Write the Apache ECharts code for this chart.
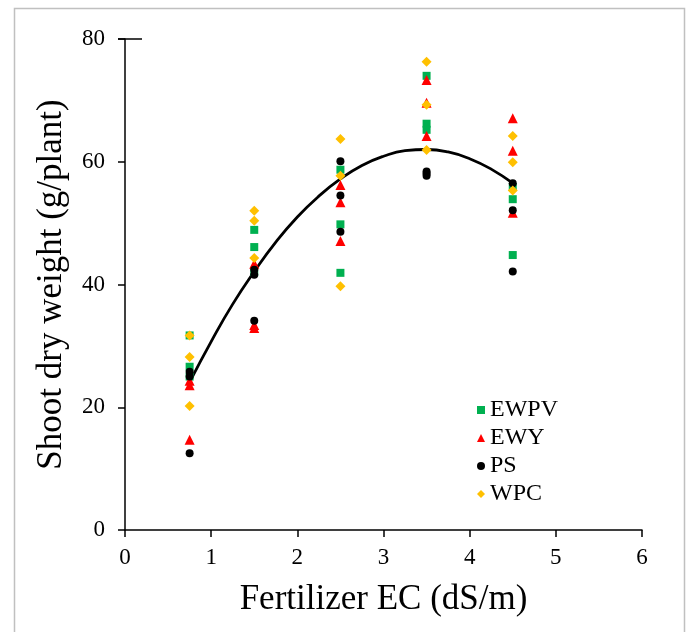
<!DOCTYPE html>
<html>
<head>
<meta charset="utf-8">
<script src="https://cdn.jsdelivr.net/npm/echarts@6/dist/echarts.min.js"></script>
<style>
  html, body { margin: 0; padding: 0; background: #fff; }
  #chart { width: 689px; height: 632px; }
</style>
</head>
<body>
<div id="chart"></div>
<script type="text/javascript">
// 施肥 EC 数值
var ecLevels = [0.75, 1.5, 2.5, 3.5, 4.5];

// 各处理的重复值（每个 EC 三个）
var ewpvValues = [[31.7, 26.6, 25.0], [48.9, 46.1, 42.0], [58.7, 49.8, 41.9], [74.0, 66.2, 65.2], [55.9, 53.9, 44.8]];
var ewyValues  = [[23.6, 24.3, 14.7], [43.4, 33.4, 32.9], [56.2, 53.4, 47.1], [73.3, 69.6, 64.2], [67.1, 61.8, 51.7]];
var psValues   = [[25.8, 25.0, 12.5], [42.4, 41.6, 34.1], [60.1, 54.5, 48.6], [58.4, 57.7, 58.1], [56.5, 52.1, 42.1]];
var wpcValues  = [[31.7, 28.2, 20.2], [52.0, 50.4, 44.3], [63.7, 57.7, 39.7], [76.3, 69.3, 61.9], [64.2, 59.9, 55.3]];

// 趋势线
var trendX = [0.75, 1.0, 1.25, 1.5, 1.75, 2.0, 2.25, 2.5, 2.75, 3.0, 3.25, 3.5, 3.75, 4.0, 4.25, 4.5];
var trendY = [24.1, 30.7, 36.8, 42.1, 46.9, 51.0, 54.4, 57.2, 59.4, 60.9, 61.8, 62.0, 61.6, 60.5, 58.8, 56.5];

var xTicks = [0, 1, 2, 3, 4, 5, 6];
var yTicks = [0, 20, 40, 60, 80];

function toPoints(values) {
	var pts = [];
	for (var i = 0; i < ecLevels.length; i++) {
		for (var j = 0; j < values[i].length; j++) {
			pts.push([ecLevels[i], values[i][j]]);
		}
	}
	return pts;
}

var trendData = [];
for (var k = 0; k < trendX.length; k++) trendData.push([trendX[k], trendY[k]]);

var font = 'Liberation Serif';
var chart = echarts.init(document.getElementById('chart'));
var option = {
	animation: false,
	textStyle: { fontFamily: font },
	grid: { left: 125, right: 47, top: 39, bottom: 102 },
	xAxis: {
		type: 'value',
		min: xTicks[0],
		max: xTicks[xTicks.length - 1],
		interval: 1,
		name: 'Fertilizer EC (dS/m)',
		nameLocation: 'middle',
		nameGap: 52,
		nameTextStyle: { fontFamily: font, fontSize: 35, color: '#000' },
		axisLine: { onZero: false, lineStyle: { color: '#000', width: 1.5 } },
		axisTick: { length: 7, lineStyle: { color: '#000', width: 1.5 } },
		axisLabel: { margin: 16, fontFamily: font, fontSize: 23, color: '#000' },
		splitLine: { show: false }
	},
	yAxis: {
		type: 'value',
		min: yTicks[0],
		max: yTicks[yTicks.length - 1],
		interval: 20,
		name: 'Shoot dry weight (g/plant)',
		nameLocation: 'middle',
		nameGap: 56,
		nameTextStyle: { fontFamily: font, fontSize: 35, color: '#000' },
		axisLine: { onZero: false, lineStyle: { color: '#000', width: 1.5 } },
		axisTick: { length: 7, lineStyle: { color: '#000', width: 1.5 } },
		axisLabel: { margin: 20, fontFamily: font, fontSize: 23, color: '#000' },
		splitLine: { show: false }
	},
	legend: {
		orient: 'vertical',
		left: 472,
		top: 393,
		itemWidth: 8,
		itemHeight: 8,
		itemGap: 4,
		textStyle: { fontFamily: font, fontSize: 24, color: '#000' },
		data: ['EWPV', 'EWY', 'PS', 'WPC']
	},
	color: ['#00b050', '#ff0000', '#000000', '#ffc000'],
	series: [
		{ name: 'EWPV', type: 'scatter', symbol: 'rect', symbolSize: 8, itemStyle: { opacity: 1 }, data: toPoints(ewpvValues), z: 3 },
		{ name: 'EWY', type: 'scatter', symbol: 'triangle', symbolSize: 10, itemStyle: { opacity: 1 }, data: toPoints(ewyValues), z: 3 },
		{ name: 'PS', type: 'scatter', symbol: 'circle', symbolSize: 8, itemStyle: { opacity: 1 }, data: toPoints(psValues), z: 3 },
		{ name: 'WPC', type: 'scatter', symbol: 'diamond', symbolSize: 10, itemStyle: { opacity: 1 }, data: toPoints(wpcValues), z: 3 },
		{
			name: 'trend', type: 'line', smooth: true, showSymbol: false, symbol: 'none',
			data: trendData, lineStyle: { color: '#000', width: 2.8 }, z: 2, silent: true
		}
	],
	graphic: [
		{
			type: 'rect', silent: true,
			shape: { x: 14.5, y: 8.5, width: 670, height: 640 },
			style: { fill: 'none', stroke: '#c0c0c0', lineWidth: 1.5 }
		},
		{
			type: 'line', silent: true,
			shape: { x1: 118, y1: 39, x2: 142, y2: 39 },
			style: { stroke: '#000', lineWidth: 1.5 }
		}
	]
};
chart.setOption(option);
</script>
</body>
</html>
